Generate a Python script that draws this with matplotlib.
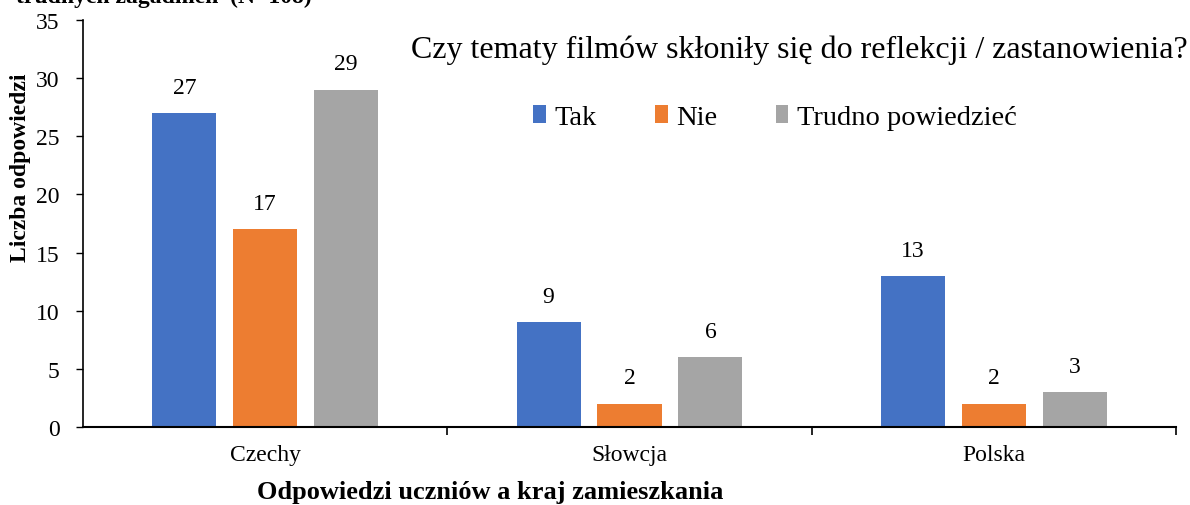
import matplotlib
matplotlib.use("Agg")
import matplotlib.pyplot as plt
import numpy as np

categories = ["Czechy", "Słowcja", "Polska"]
series_names = ["Tak", "Nie", "Trudno powiedzieć"]
tak = [27, 9, 13]
nie = [17, 2, 2]
trudno = [29, 6, 3]
colors = ["#4472C4", "#ED7D31", "#A5A5A5"]
title = "Czy tematy filmów skłoniły się do reflekcji / zastanowienia?"
header = "trudnych zagadnień  (N=108)"

plt.rcParams['font.family'] = ['Liberation Serif', 'DejaVu Serif']

fig = plt.figure(figsize=(11.9, 5.06), dpi=100)
ax = fig.add_axes([83/1190, 78/506, (1176-83)/1190, (428-21)/506])

x = np.arange(len(categories))
width = 0.176
offsets = [-0.222, 0.0, 0.222]
for vals, name, col, off in zip([tak, nie, trudno], series_names, colors, offsets):
    bars = ax.bar(x + off, vals, width, color=col, label=name)
    for b, v in zip(bars, vals):
        ax.annotate(str(v), (b.get_x() + b.get_width()/2, v), xytext=(0, 11),
                    textcoords="offset points", ha="center", va="bottom", fontsize=17)

ax.set_xlim(-0.5, 2.5)
ax.set_ylim(0, 35)
ax.set_yticks(range(0, 36, 5))
ax.tick_params(axis='y', labelsize=17, direction='out', length=5, width=1, pad=12)
ax.set_xticks(x)
ax.set_xticklabels(categories)
ax.tick_params(axis='x', labelsize=17, length=0, pad=12)
# category boundary ticks
ax.set_xticks([0.5, 1.5, 2.5], minor=True)
ax.tick_params(axis='x', which='minor', length=6, direction='out', width=1.2)
for s in ['top', 'right']:
    ax.spines[s].set_visible(False)
ax.spines['left'].set_linewidth(1.2)
ax.spines['bottom'].set_linewidth(1.5)

fig.text(21/1190, 1 - 168/506, "Liczba odpowiedzi", rotation=90, ha='center', va='center',
         fontsize=17, fontweight='bold')
fig.text(490/1190, 1 - 493/506, "Odpowiedzi uczniów a kraj zamieszkania", ha='center', va='center',
         fontsize=19, fontweight='bold')
fig.text(799/1190, 1 - 50/506, title, ha='center', va='center', fontsize=23)
fig.text(312/1190, 1 - 3/506, header, ha='right', va='baseline', fontsize=17, fontweight='bold')

leg = ax.legend(loc='center', bbox_to_anchor=(0.633, 0.76), ncol=3, frameon=False,
                fontsize=20.5, handlelength=0.45, handleheight=0.6, columnspacing=2.05, handletextpad=0.3)

fig.savefig("out.png", dpi=100)
